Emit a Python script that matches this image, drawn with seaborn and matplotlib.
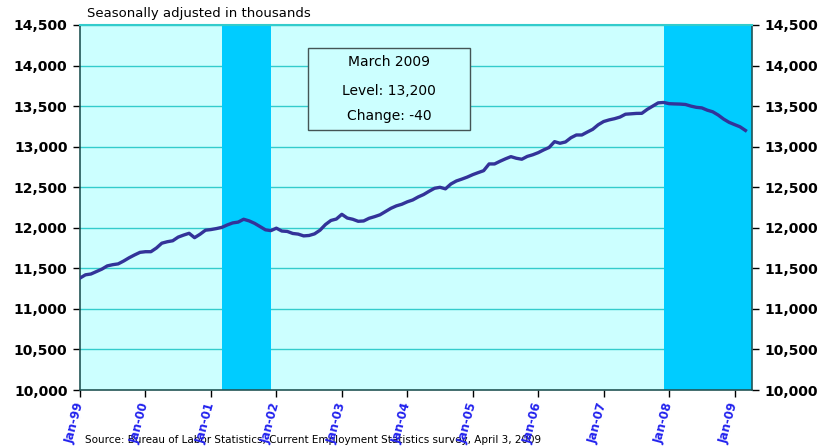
import numpy as np
import pandas as pd
import matplotlib
matplotlib.use("Agg")
import matplotlib.pyplot as plt
from matplotlib.patches import Rectangle
import seaborn as sns

# monthly employment, seasonally adjusted (thousands), Jan 1999 - Mar 2009
level = [
    11380, 11420, 11430, 11460, 11490, 11530, 11545, 11555, 11590, 11630, 11665, 11697,  # 1999
    11705, 11705, 11750, 11810, 11828, 11840, 11885, 11910, 11932, 11878, 11920, 11970,  # 2000
    11978, 11990, 12005, 12035, 12060, 12070, 12105, 12085, 12055, 12015, 11975, 11965,  # 2001
    11995, 11960, 11955, 11930, 11922, 11900, 11905, 11925, 11970, 12040, 12090, 12108,  # 2002
    12166, 12120, 12105, 12080, 12084, 12117, 12137, 12160, 12200, 12240, 12270, 12290,  # 2003
    12320, 12343, 12380, 12410, 12450, 12487, 12499, 12480, 12540, 12577, 12600, 12625,  # 2004
    12655, 12680, 12704, 12787, 12787, 12820, 12850, 12877, 12857, 12845, 12880, 12900,  # 2005
    12926, 12960, 12990, 13062, 13042, 13058, 13110, 13144, 13144, 13180, 13214, 13270,  # 2006
    13310, 13330, 13345, 13365, 13400, 13405, 13410, 13411, 13460, 13500, 13540, 13545,  # 2007
    13530, 13527, 13525, 13520, 13500, 13485, 13478, 13450, 13430, 13390, 13340, 13300,  # 2008
    13272, 13245, 13200,                                                                  # 2009
]
year_labels = ["Jan-99", "Jan-00", "Jan-01", "Jan-02", "Jan-03", "Jan-04",
               "Jan-05", "Jan-06", "Jan-07", "Jan-08", "Jan-09"]
# recessions as (start month, end month) counted from Jan 1999
recessions = [(26, 35), (107, 123.2)]
y_ticks = [10000, 10500, 11000, 11500, 12000, 12500, 13000, 13500, 14000, 14500]
box_lines = ["March 2009", "Level: 13,200", "Change: -40"]

df = pd.DataFrame({"month": np.arange(len(level)), "level": level})

fig = plt.figure(figsize=(8.22, 4.46), dpi=100)
ax = fig.add_axes([80 / 822, 56 / 446, 672 / 822, 365 / 446])
ax.set_facecolor("#CCFFFF")

for start, end in recessions:
    ax.axvspan(start, end, color="#00CCFF", lw=0, zorder=1)

for y in y_ticks[1:]:
    ax.axhline(y, color="#33CCCC", lw=1, zorder=0.5)

sns.lineplot(data=df, x="month", y="level", ax=ax, color="#333399",
             linewidth=2.4, zorder=3)

ax.set_xlim(0, 123.2)
ax.set_ylim(10000, 14500)
ax.set_xlabel("")
ax.set_ylabel("")

ax.set_xticks(np.arange(0, 121, 12))
ax.set_xticklabels(year_labels, rotation=75, ha="right", va="center",
                   rotation_mode="anchor", color="#2222EE",
                   fontsize=8.5, fontweight="bold")
ax.set_yticks(y_ticks)
ax.set_yticklabels([f"{v:,}" for v in y_ticks], fontsize=10, fontweight="bold")
ax.tick_params(axis="y", right=True, labelright=True, length=5, width=1, pad=4)
ax.tick_params(axis="x", length=5, width=1, pad=4)

for side in ["left", "bottom", "right"]:
    ax.spines[side].set_color("#225555")
    ax.spines[side].set_linewidth(1.2)
ax.spines["top"].set_color("#33CCCC")
ax.spines["top"].set_linewidth(1.5)

fig.text(87 / 822, 1 - 13 / 446, "Seasonally adjusted in thousands",
         fontsize=9.5, va="center", ha="left")

# annotation box
ax.add_patch(Rectangle((0.339, 0.712), 0.241, 0.225, transform=ax.transAxes,
                       facecolor="#CCFFFF", edgecolor="#445555", linewidth=1,
                       zorder=5))
for txt, yf in zip(box_lines, [0.899, 0.818, 0.752]):
    ax.text(0.46, yf, txt, transform=ax.transAxes, ha="center", va="center",
            fontsize=10, zorder=6)

# source note sits underneath the rotated tick labels, as in the original
fig.text(85 / 822, 1 / 446, "Source: Bureau of Labor Statistics, Current Employment "
         "Statistics survey, April 3, 2009", fontsize=7.5, va="bottom", ha="left",
         zorder=-1)

fig.savefig("out.png", dpi=100)
